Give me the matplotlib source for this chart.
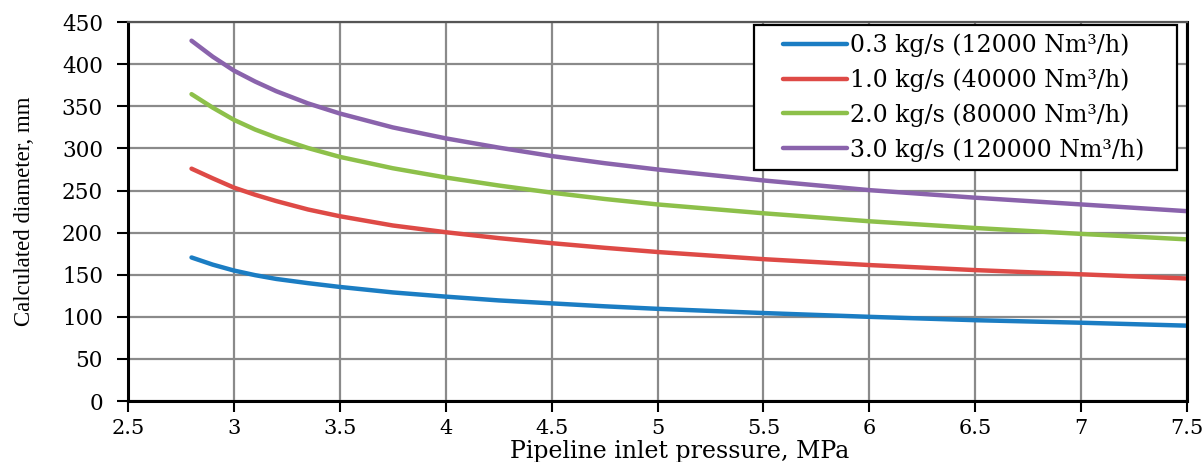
import matplotlib
matplotlib.use("Agg")
import matplotlib.pyplot as plt
from matplotlib.legend_handler import HandlerLine2D
from matplotlib.lines import Line2D
from matplotlib.font_manager import FontProperties

plt.rcParams['font.family'] = ['DejaVu Serif']

# pressure, MPa
pressure = [2.8, 2.9, 3.0, 3.1, 3.2, 3.35, 3.5, 3.75, 4.0, 4.25, 4.5, 4.75,
            5.0, 5.5, 6.0, 6.5, 7.0, 7.5]

# calculated diameter, mm
d_03 = [170.5, 162, 155, 149.5, 145, 140, 135.5, 129, 124, 119.5, 116, 112.5,
        109.5, 104.5, 100, 96, 93, 89.5]
d_10 = [276, 264.5, 253.5, 245, 237.5, 227.5, 219.5, 208.5, 200.5, 193.5, 187.5, 182,
        177, 168.5, 161.5, 155.5, 150.5, 145.5]
d_20 = [364.5, 348.5, 334, 322.5, 313, 300.5, 290, 276.5, 265.5, 256, 247.5, 240,
        233.5, 223, 213.5, 205.5, 198.5, 192]
d_30 = [428, 409, 392.5, 379.5, 368, 353.5, 341.5, 325, 312, 301, 291, 282.5,
        275, 262, 250.5, 241.5, 233.5, 225.5]

labels = ['0.3 kg/s (12000 Nm³/h)', '1.0 kg/s (40000 Nm³/h)',
          '2.0 kg/s (80000 Nm³/h)', '3.0 kg/s (120000 Nm³/h)']
colors = ['#1B7DC3', '#DE4A46', '#8DC04A', '#8A63AC']

fig = plt.figure(figsize=(12.04, 4.62), dpi=100)
ax = fig.add_axes([0.1063, 0.132, 0.8797, 0.820])

for d, lab, c in zip([d_03, d_10, d_20, d_30], labels, colors):
    ax.plot(pressure, d, color=c, lw=3.2, label=lab,
            solid_capstyle='round', solid_joinstyle='round')

ax.set_xlim(2.5, 7.5)
ax.set_ylim(0, 450)
ax.set_xticks([2.5, 3, 3.5, 4, 4.5, 5, 5.5, 6, 6.5, 7, 7.5])
ax.set_xticklabels(['2.5', '3', '3.5', '4', '4.5', '5', '5.5', '6', '6.5', '7', '7.5'])
ax.set_yticks(range(0, 451, 50))

ax.grid(True, color='#8a8a8a', lw=1.6)
ax.set_axisbelow(True)
ax.tick_params(axis='both', direction='out', length=8, width=1.5, color='black')
ax.tick_params(axis='y', pad=10, labelsize=15.5)
ax.tick_params(axis='x', pad=5, labelsize=15)

for side in ['left', 'bottom', 'right']:
    ax.spines[side].set_color('black')
    ax.spines[side].set_linewidth(2.2)
ax.spines['top'].set_color('#555555')
ax.spines['top'].set_linewidth(1.6)

ax.set_xlabel('Pipeline inlet pressure, MPa', fontsize=17)
ax.xaxis.set_label_coords(0.521, -0.103)
ylab_font = FontProperties(family=['Liberation Serif', 'DejaVu Serif'], size=16.5)
ax.set_ylabel('Calculated diameter, mm', fontproperties=ylab_font)
ax.yaxis.set_label_coords(-0.088, 0.5)

leg = ax.legend(loc='upper left', bbox_to_anchor=(0.591, 0.0, 0.3996, 0.992),
                mode='expand', fontsize=17, frameon=True, fancybox=False,
                handlelength=3.6, handletextpad=0.13, borderpad=0.35,
                labelspacing=0.48, borderaxespad=0,
                handler_map={Line2D: HandlerLine2D(xpad=0.89)})
leg.get_frame().set_edgecolor('black')
leg.get_frame().set_linewidth(1.6)
leg.get_frame().set_alpha(1)

fig.savefig('out.png', dpi=100)
